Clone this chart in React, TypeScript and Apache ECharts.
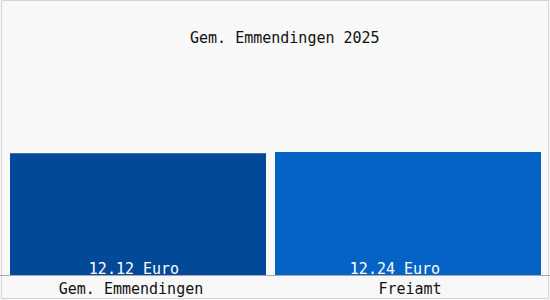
import React, { useEffect, useRef } from "react";
import * as echarts from "echarts";

const titleText = "Gem. Emmendingen 2025";
const categories = ["Gem. Emmendingen", "Freiamt"];
const values = [12.12, 12.24];
const valueLabels = ["12.12 Euro", "12.24 Euro"];
const colors = ["#03499a", "#0563c6"];

const FONT = "'DejaVu Sans Mono', monospace";

export default function App() {
  const ref = useRef<HTMLDivElement>(null);
  useEffect(() => {
    document.body.style.margin = "0";
    const chart = echarts.init(ref.current!, null, { renderer: "svg" });
    const grids = [
      { left: 10, width: 256, top: 34, height: 241 },
      { left: 275, width: 266, top: 34, height: 241 },
    ];
    const labelPad = [[0, 14, 0, 0], [0, 0, 0, 4]];
    const valueOffset = [[-4, 0], [-13, 0]];
    chart.setOption({
      animation: false,
      backgroundColor: "#f8f8f8",
      title: {
        text: titleText,
        left: 185,
        top: 25,
        textStyle: { fontFamily: FONT, fontSize: 15, fontWeight: "normal", color: "#111" },
      },
      grid: grids,
      xAxis: categories.map((c, i) => ({
        type: "category",
        gridIndex: i,
        data: [c],
        axisLine: { show: false },
        axisTick: { show: false },
        axisLabel: {
          fontFamily: FONT,
          fontSize: 15,
          color: "#111",
          margin: 6,
          padding: labelPad[i],
        },
      })),
      yAxis: categories.map((_, i) => ({
        type: "value",
        gridIndex: i,
        min: 0,
        max: 24,
        show: false,
        splitLine: { show: false },
      })),
      series: categories.map((_, i) => ({
        type: "bar",
        xAxisIndex: i,
        yAxisIndex: i,
        barWidth: "100%",
        data: [values[i]],
        itemStyle: { color: colors[i] },
        label: {
          show: true,
          position: "insideBottom",
          distance: -1,
          offset: valueOffset[i],
          formatter: () => valueLabels[i],
          fontFamily: FONT,
          fontSize: 15,
          color: "#ffffff",
        },
      })),
      graphic: [
        {
          type: "rect",
          shape: { x: 1.5, y: 0.5, width: 547, height: 298 },
          style: { fill: "none", stroke: "#d4d4d4", lineWidth: 1 },
          z: 0,
        },
        {
          type: "line",
          shape: { x1: 0, y1: 275.5, x2: 550, y2: 275.5 },
          style: { stroke: "#a8a8a8", lineWidth: 1 },
          z: 10,
        },
      ],
    });
    return () => chart.dispose();
  }, []);
  return <div ref={ref} style={{ width: 550, height: 300 }} />;
}
